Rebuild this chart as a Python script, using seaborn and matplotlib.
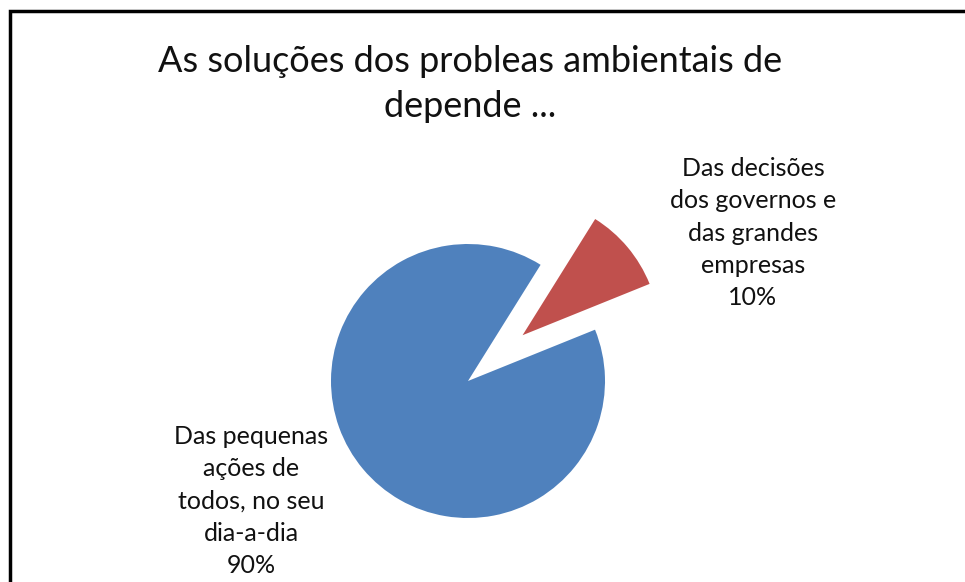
import matplotlib
matplotlib.use("Agg")
import matplotlib.pyplot as plt
import seaborn as sns
from matplotlib.patches import Rectangle

categories = ["Das decisões\ndos governos e\ndas grandes\nempresas",
              "Das pequenas\nações de\ntodos, no seu\ndia-a-dia"]
values = [10, 90]
colors = ["#C0504D", "#4F81BD"]
explode = [0.52, 0.0]
title = "As soluções dos probleas ambientais de\ndepende ..."

sns.set_theme(style="white")
plt.rcParams['font.family'] = ['Lato', 'DejaVu Sans']

W, H = 965, 582
fig = plt.figure(figsize=(W / 100, H / 100), dpi=100)
fig.patch.set_facecolor("white")

# pie centre and radius in pixels
cx, cy, r = 468, 381, 137
ax = fig.add_axes([(cx - r) / W, (H - cy - r) / H, 2 * r / W, 2 * r / H])
wedges, _ = ax.pie(values, colors=colors, explode=explode, startangle=58,
                   counterclock=False, radius=1.0,
                   wedgeprops=dict(linewidth=0))
for w in wedges:
    w.set_clip_on(False)
ax.set_xlim(-1, 1)
ax.set_ylim(-1, 1)
ax.set_aspect("equal")
ax.axis("off")

total = sum(values)
label_pos = [((753 - cx) / r, (cy - 233) / r), ((251 - cx) / r, (cy - 501) / r)]
for cat, v, (lx, ly) in zip(categories, values, label_pos):
    ax.text(lx, ly, f"{cat}\n{round(100 * v / total)}%", ha="center", va="center",
            fontsize=18, linespacing=1.48, color="#111111", clip_on=False)

fig.text(470 / W, 1 - 84 / H, title, ha="center", va="center", fontsize=26,
         linespacing=1.45, color="#111111")

frame = Rectangle((10 / W, -0.1), 2.0, 1.1 - 11 / H, transform=fig.transFigure,
                  fill=False, edgecolor="black", linewidth=2.5)
fig.patches.append(frame)

fig.savefig("out.png", dpi=100, facecolor="white")
